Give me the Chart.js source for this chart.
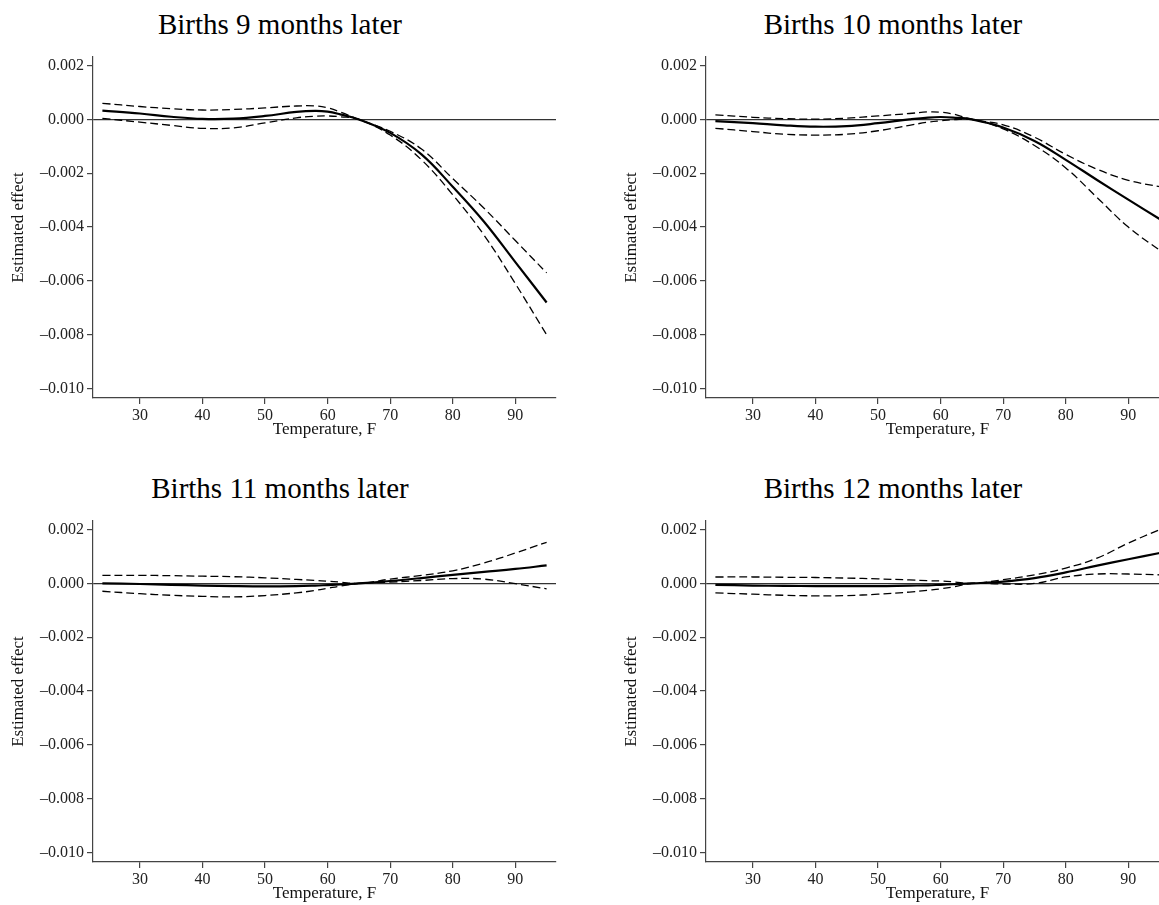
<!DOCTYPE html>
<html>
<head>
<meta charset="utf-8">
<title>Births by temperature</title>
<script src="https://cdn.jsdelivr.net/npm/chart.js@4.4.0/dist/chart.umd.min.js"></script>
<style>
  html, body { margin: 0; padding: 0; background: #fff; }
  body { width: 1159px; height: 905px; overflow: hidden; position: relative; }
  .panel { position: absolute; width: 613px; height: 464px; }
  .panel h2 {
    position: absolute; top: 8px; left: 280px; transform: translateX(-50%);
    margin: 0; font: 400 29px/33px "Liberation Serif", serif; white-space: nowrap; color: #000;
  }
  .panel canvas { position: absolute; left: 0; top: 0; }
</style>
</head>
<body>
<div class="panel" style="left:0;top:0"><h2 id="t0"></h2><canvas id="c0" width="613" height="464"></canvas></div>
<div class="panel" style="left:613px;top:0"><h2 id="t1"></h2><canvas id="c1" width="613" height="464"></canvas></div>
<div class="panel" style="left:0;top:464px"><h2 id="t2"></h2><canvas id="c2" width="613" height="464"></canvas></div>
<div class="panel" style="left:613px;top:464px"><h2 id="t3"></h2><canvas id="c3" width="613" height="464"></canvas></div>
<script>
// temperature grid (F) the curves are read at
const temps = [24, 30, 35, 40, 45, 50, 55, 58, 60, 62, 65, 70, 75, 80, 85, 90, 95];

const xTicks = [30, 40, 50, 60, 70, 80, 90];
const yTicks = [0.002, 0, -0.002, -0.004, -0.006, -0.008, -0.010];

const panelTitles = [
  "Births 9 months later",
  "Births 10 months later",
  "Births 11 months later",
  "Births 12 months later",
];

// births 9 months later
const est9 = [0.00033, 0.00022, 0.0001, 0.00002, 0.00003, 0.00013, 0.00028, 0.00032, 0.00029, 0.00019, 0, -0.0005, -0.0013, -0.0025, -0.0038, -0.0053, -0.0068];
const hi9 = [0.0006, 0.00048, 0.0004, 0.00035, 0.00037, 0.00043, 0.0005, 0.0005, 0.00043, 0.00028, 0, -0.00044, -0.0011, -0.0022, -0.0033, -0.0045, -0.0057];
const lo9 = [0.00004, -0.0001, -0.00022, -0.00033, -0.00031, -0.00013, 0.00006, 0.00012, 0.00013, 0.0001, 0, -0.00058, -0.0015, -0.0028, -0.0043, -0.0061, -0.008];

// births 10 months later
const est10 = [-0.00006, -0.00014, -0.00022, -0.00027, -0.00025, -0.00014, 0, 0.00007, 0.00009, 0.00007, 0, -0.0003, -0.0008, -0.0015, -0.00225, -0.00298, -0.0037];
const hi10 = [0.00017, 0.00008, 0.00003, 0.00001, 0.00005, 0.00013, 0.00022, 0.00028, 0.00027, 0.0002, 0, -0.0002, -0.00066, -0.0013, -0.00185, -0.00226, -0.0025];
const lo10 = [-0.00033, -0.00045, -0.00055, -0.00058, -0.00055, -0.00042, -0.00022, -0.0001, -0.00005, -0.00001, 0, -0.00035, -0.00097, -0.0018, -0.0029, -0.004, -0.00486];

// births 11 months later
const est11 = [0, -0.00002, -0.00005, -0.00008, -0.0001, -0.00011, -0.0001, -0.00008, -0.00006, -0.00004, 0, 0.00009, 0.0002, 0.00032, 0.00043, 0.00054, 0.00067];
const hi11 = [0.0003, 0.0003, 0.00029, 0.00027, 0.00025, 0.00021, 0.00015, 0.00011, 0.00008, 0.00005, 0, 0.00016, 0.0003, 0.00047, 0.00076, 0.00113, 0.00153];
const lo11 = [-0.00029, -0.00038, -0.00044, -0.00048, -0.0005, -0.00045, -0.00035, -0.00026, -0.00018, -0.0001, 0, 0.00005, 0.00011, 0.00018, 0.00016, -0.00001, -0.0002];

// births 12 months later
const est12 = [-0.00005, -0.00008, -0.00009, -0.0001, -0.0001, -0.0001, -0.00008, -0.00007, -0.00005, -0.00003, 0, 0.00007, 0.0002, 0.00041, 0.00066, 0.0009, 0.00113];
const hi12 = [0.00024, 0.00024, 0.00023, 0.00022, 0.0002, 0.00017, 0.00013, 0.0001, 0.00009, 0.00006, 0, 0.00014, 0.00032, 0.00057, 0.00094, 0.0015, 0.002];
const lo12 = [-0.00035, -0.0004, -0.00044, -0.00046, -0.00045, -0.0004, -0.00032, -0.00025, -0.0002, -0.00013, 0, -0.00002, 0, 0.00024, 0.00035, 0.00035, 0.00032];

const panels = [
  [est9, hi9, lo9],
  [est10, hi10, lo10],
  [est11, hi11, lo11],
  [est12, hi12, lo12],
];

const serif = "'Liberation Serif', 'Times New Roman', serif";
const axisColor = "#444";

const toPoints = (vals) => vals.map((v, i) => ({ x: temps[i], y: v }));

const fmtY = (v) => {
  if (Math.abs(v) < 1e-9) return "0.000";
  return (v < 0 ? "\u2013" : "") + Math.abs(v).toFixed(3);
};

function drawPanel(idx) {
  const [est, hi, lo] = panels[idx];
  document.getElementById("t" + idx).textContent = panelTitles[idx];
  const ctx = document.getElementById("c" + idx).getContext("2d");

  const dashed = (vals) => ({
    data: toPoints(vals),
    borderColor: "#000",
    borderWidth: 1.3,
    borderDash: [8, 4],
    pointRadius: 0,
    tension: 0.4,
  });

  new Chart(ctx, {
    type: "line",
    data: {
      datasets: [
        dashed(hi),
        dashed(lo),
        {
          data: toPoints(est),
          borderColor: "#000",
          borderWidth: 2.2,
          pointRadius: 0,
          tension: 0.4,
        },
      ],
    },
    options: {
      responsive: false,
      animation: false,
      layout: { padding: { top: 57, right: 57, left: 0, bottom: 0 } },
      plugins: {
        legend: { display: false },
        tooltip: { enabled: false },
      },
      scales: {
        x: {
          type: "linear",
          min: 22.5,
          max: 96.5,
          afterFit: (s) => { s.height = 66; },
          afterBuildTicks: (s) => { s.ticks = xTicks.map((v) => ({ value: v })); },
          border: { display: true, color: axisColor, width: 1.2 },
          grid: { drawOnChartArea: false, tickLength: 6, tickColor: axisColor, lineWidth: 1.2 },
          ticks: { color: "#222", padding: 2, font: { family: serif, size: 16 } },
          title: {
            display: true,
            text: "Temperature, F",
            color: "#111",
            font: { family: serif, size: 17 },
            padding: { top: 0, bottom: 24 },
          },
        },
        y: {
          min: -0.01035,
          max: 0.00232,
          afterFit: (s) => { s.width = 93; },
          afterBuildTicks: (s) => { s.ticks = yTicks.map((v) => ({ value: v })); },
          border: { display: true, color: axisColor, width: 1.2 },
          grid: {
            drawOnChartArea: true,
            tickLength: 6,
            tickColor: axisColor,
            lineWidth: 1.2,
            color: (c) => (c.tick && Math.abs(c.tick.value) < 1e-9 ? "#333" : "rgba(0,0,0,0)"),
          },
          ticks: {
            color: "#222",
            padding: 3,
            font: { family: serif, size: 16 },
            callback: (v) => fmtY(v),
          },
          title: {
            display: true,
            text: "Estimated effect",
            color: "#111",
            font: { family: serif, size: 17 },
            padding: { top: 8, bottom: 0 },
          },
        },
      },
    },
  });
}

panels.forEach((_, i) => drawPanel(i));
</script>
</body>
</html>
